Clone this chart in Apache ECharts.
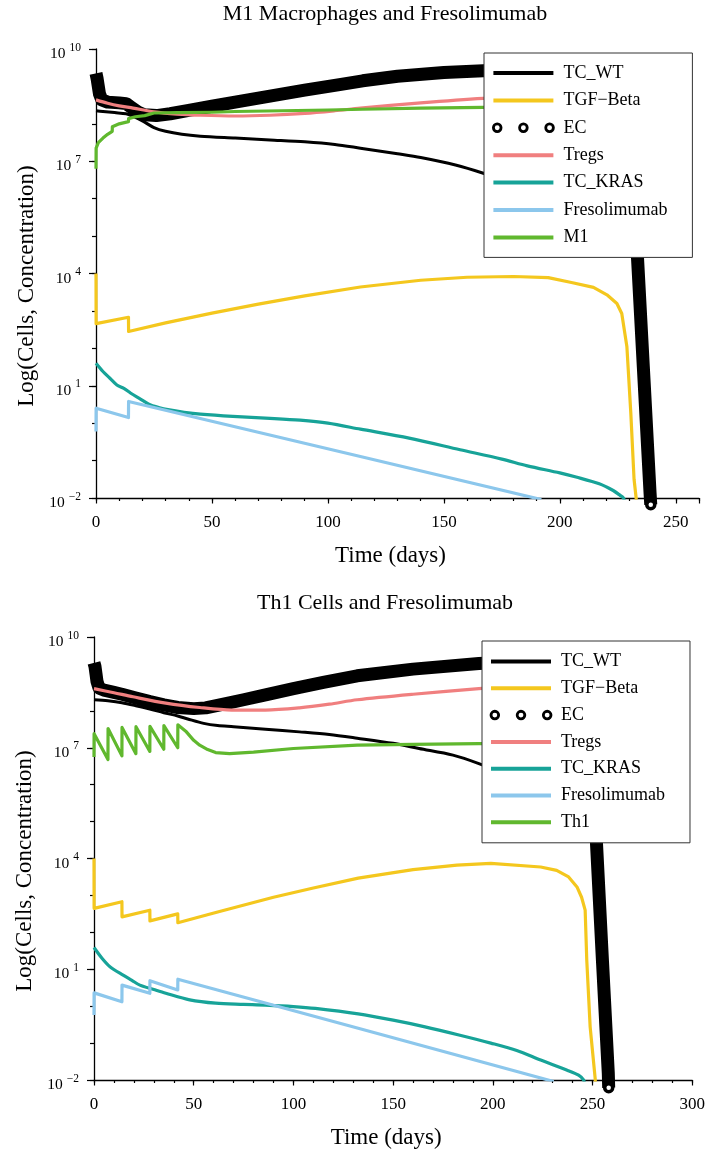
<!DOCTYPE html>
<html><head><meta charset="utf-8">
<script src="https://cdn.jsdelivr.net/npm/echarts@6/dist/echarts.min.js"></script>
<style>html,body{margin:0;padding:0;background:#fff}#c{width:708px;height:1155px}</style>
</head><body><div id="c"></div>
<script>
// Values are [time (days), log10(cells or concentration)].
const titles = ['M1 Macrophages and Fresolimumab', 'Th1 Cells and Fresolimumab'];
const names1 = ['TC_WT', 'TGF\u2212Beta', 'EC', 'Tregs', 'TC_KRAS', 'Fresolimumab', 'M1'];
const names2 = ['TC_WT', 'TGF\u2212Beta', 'EC', 'Tregs', 'TC_KRAS', 'Fresolimumab', 'Th1'];
const xMax = [260, 300];

// ---- Chart 1: M1 Macrophages ----
const m1_TCWT = [[0,8.35],[3,8.33],[8,8.3],[13,8.27],[16,8.2],[20,8.08],[25,7.9],[30,7.8],[37,7.72],[45,7.67],[60,7.62],[75,7.57],[90,7.52],[103,7.45],[114,7.35],[130,7.2],[140,7.1],[155,6.9],[167,6.68],[190,6.2],[215,5.6],[238,4.9]];
const m1_TGF = [[0,4.0],[0.05,2.66],[14,2.83],[14.05,2.45],[30,2.68],[50,2.94],[70,3.18],[90,3.4],[114,3.64],[140,3.82],[160,3.9],[180,3.92],[195,3.89],[205,3.76],[214.5,3.63],[220.3,3.43],[224.6,3.2],[226.7,2.93],[228.9,2.05],[230.6,0.27],[232,-1.5],[232.9,-2.0],[233.5,-2.6]];
const m1_EC = [[0,9.35],[0.5,9.2],[1,9.0],[1.5,8.8],[2.5,8.64],[5,8.58],[10,8.56],[13,8.54],[15,8.45],[18,8.32],[21,8.24],[26,8.22],[32,8.27],[40,8.36],[50,8.47],[60,8.58],[75,8.74],[90,8.9],[105,9.05],[115,9.15],[130,9.27],[150,9.37],[167,9.42],[200,9.5],[220,9.5],[226,9.2],[229,8.0],[231,6.6],[233.5,4.4],[236,1.5],[238.9,-1.87],[239.2,-2.18]];
const m1_Tregs = [[0,8.64],[5,8.55],[10,8.48],[16,8.42],[25,8.32],[35,8.26],[45,8.23],[60,8.21],[75,8.23],[90,8.28],[103,8.35],[114,8.42],[140,8.56],[167,8.68],[200,8.78],[239,8.85]];
const m1_KRAS = [[0,1.6],[3,1.38],[6,1.2],[9,1.02],[12,0.93],[15,0.8],[19,0.65],[23,0.5],[27,0.42],[31,0.36],[38,0.29],[45,0.24],[59,0.18],[75,0.13],[88,0.08],[100,0.0],[114,-0.16],[135,-0.4],[157,-0.71],[175,-0.96],[186,-1.14],[200,-1.33],[207,-1.44],[217,-1.62],[223,-1.8],[226,-1.93],[227.4,-2.0],[228,-2.1]];
const m1_Freso = [[0,-0.22],[0.05,0.40],[14,0.15],[14.05,0.58],[114,-0.89],[192,-2.04]];
const m1_M1 = [[0,6.8],[0.05,7.35],[1,7.5],[3,7.62],[5,7.72],[7,7.8],[7.05,7.92],[10,8.0],[14,8.06],[14.05,8.14],[17,8.19],[21,8.22],[21.05,8.27],[25,8.29],[35,8.3],[50,8.31],[60,8.33],[80,8.35],[100,8.37],[115,8.39],[140,8.42],[167,8.44],[200,8.46],[239,8.47]];

// ---- Chart 2: Th1 cells ----
const th_TCWT = [[0,8.3],[7,8.27],[14,8.22],[21,8.14],[28,8.05],[35,7.95],[42,7.86],[47,7.78],[55,7.66],[62,7.6],[70,7.57],[86,7.5],[103,7.43],[118,7.36],[132,7.26],[150,7.12],[163,6.98],[180,6.8],[193,6.57],[220,6.0],[250,5.3],[257,4.9]];
const th_TGF = [[0,4.0],[0.05,2.65],[14,2.83],[14.05,2.42],[28,2.6],[28.05,2.31],[42,2.5],[42.05,2.26],[62,2.55],[90,2.95],[110,3.2],[132.5,3.47],[160,3.7],[182,3.82],[199,3.87],[224,3.77],[232,3.68],[238,3.5],[242.2,3.23],[244.5,2.95],[246.3,2.6],[247.1,1.25],[248.8,-0.56],[251.3,-1.95],[252,-2.6]];
const th_EC = [[0,9.3],[0.5,9.2],[1,9.0],[1.5,8.8],[2.5,8.62],[5,8.56],[10,8.5],[14,8.45],[21,8.35],[28,8.25],[35,8.16],[42,8.09],[50,8.06],[56,8.08],[62,8.15],[75,8.3],[86,8.43],[100,8.6],[115,8.77],[132,8.95],[160,9.13],[193,9.28],[220,9.35],[244,9.32],[247,8.8],[249.5,7.0],[251.8,4.6],[255,1.2],[257.9,-1.82],[258.1,-2.21]];
const th_Tregs = [[0,8.6],[10,8.49],[19.6,8.38],[36,8.21],[53,8.09],[69,8.02],[86,8.02],[103,8.08],[118,8.18],[132,8.3],[160,8.45],[193,8.6],[225,8.72],[257,8.8]];
const th_KRAS = [[0,1.59],[4,1.3],[8,1.07],[14.6,0.84],[19,0.7],[23,0.57],[30,0.45],[36,0.35],[48,0.17],[61,0.08],[75,0.05],[86,0.03],[100,-0.01],[111,-0.06],[132.5,-0.21],[150,-0.38],[166,-0.56],[183,-0.78],[199,-1.0],[212,-1.2],[224,-1.46],[237,-1.73],[243,-1.87],[245.5,-2.0],[246,-2.1]];
const th_Freso = [[0,-0.24],[0.05,0.36],[14,0.12],[14.05,0.57],[28,0.35],[28.05,0.69],[42,0.44],[42.05,0.73],[132.5,-0.6],[230.5,-2.04]];
const th_Th1 = [[0,6.75],[0.05,7.38],[7,6.68],[7.05,7.52],[14,6.78],[14.05,7.55],[21,6.84],[21.05,7.57],[28,6.9],[28.05,7.58],[35,6.96],[35.05,7.6],[42,7.0],[42.05,7.62],[46,7.45],[50,7.2],[53,7.07],[57,6.95],[61,6.87],[68,6.84],[80,6.88],[100,6.98],[132,7.07],[160,7.09],[193,7.11],[255,7.12]];

const colors = ['#000000', '#F4C71E', '#000000', '#F07F7F', '#17A398', '#8CC7EC', '#60B82E'];
const smoothSeries = [0.3, false, false, 0.3, 0.3, false, false];
const FONT = "'Liberation Serif','Times New Roman',serif";

const chart1 = [m1_TCWT, m1_TGF, m1_EC, m1_Tregs, m1_KRAS, m1_Freso, m1_M1];
const chart2 = [th_TCWT, th_TGF, th_EC, th_Tregs, th_KRAS, th_Freso, th_Th1];

const grids = [
  {left: 96, right: 9, top: 49, height: 449},
  {left: 94, right: 12, top: 637, height: 443}
];

function supLabel(v) {
  const s = v < 0 ? '\u2212' + Math.abs(v) : String(v);
  return '{b|10}{s|' + s + '}';
}

const xAxes = [], yAxes = [], series = [], legends = [], titleOpts = [];
const axisLineStyle = {color: '#000', width: 1.3};
const tickStyle = {color: '#000', width: 1.2};

[0, 1].forEach(function (g) {
  xAxes.push({
    type: 'value', gridIndex: g, position: 'bottom', min: 0, max: xMax[g], interval: 10,
    axisLine: {show: true, onZero: false, lineStyle: axisLineStyle},
    axisTick: {show: true, length: 3, lineStyle: tickStyle},
    axisLabel: {show: false}, splitLine: {show: false},
    name: 'Time (days)', nameLocation: 'middle', nameGap: 46,
    nameTextStyle: {fontSize: 23, fontFamily: FONT, color: '#000', padding: [0, 14, 0, 0]}
  });
  xAxes.push({
    type: 'value', gridIndex: g, position: 'bottom', min: 0, max: xMax[g], interval: 50,
    axisLine: {show: false, onZero: false},
    axisTick: {show: true, length: 5.5, lineStyle: tickStyle},
    axisLabel: {fontSize: 17, fontFamily: FONT, color: '#000', margin: 16,
      formatter: function (v) { return v % 50 === 0 ? String(v) : ''; }},
    splitLine: {show: false}
  });
  yAxes.push({
    type: 'value', gridIndex: g, position: 'left', min: -2, max: 10, interval: 1,
    axisLine: {show: true, onZero: false, lineStyle: axisLineStyle},
    axisTick: {show: true, length: 4, lineStyle: tickStyle},
    axisLabel: {show: false}, splitLine: {show: false},
    name: 'Log(Cells, Concentration)', nameLocation: 'middle', nameGap: 58,
    nameTextStyle: {fontSize: 23, fontFamily: FONT, color: '#000', padding: [0, 25, 0, 0]}
  });
  yAxes.push({
    type: 'value', gridIndex: g, position: 'left', min: -2, max: 10, interval: 3,
    axisLine: {show: false, onZero: false},
    axisTick: {show: true, length: 7, lineStyle: tickStyle},
    axisLabel: {margin: 15, formatter: supLabel, color: '#000',
      rich: {
        b: {fontSize: 15.5, fontFamily: FONT, color: '#000', lineHeight: 15, padding: [10, 0, 0, 0]},
        s: {fontSize: 11.5, fontFamily: FONT, color: '#000', lineHeight: 11, verticalAlign: 'top', padding: [0, 0, 0, 4]}
      }},
    splitLine: {show: false}
  });

  const names = g === 0 ? names1 : names2;
  const datasets = g === 0 ? chart1 : chart2;
  datasets.forEach(function (d, i) {
    const s = {
      name: names[i], type: 'line', data: d,
      xAxisIndex: g * 2, yAxisIndex: g * 2,
      color: colors[i],
      smooth: smoothSeries[i],
      lineStyle: {color: colors[i], width: i === 0 ? 3 : 3.2, join: 'round'},
      symbol: 'none', animation: false, emphasis: {disabled: true}
    };
    if (names[i] === 'EC') {
      s.clip = false;
      s.lineStyle = {color: '#000', width: 13, join: 'round'};
      const last = d.length - 1;
      s.symbol = function (v, p) { return p.dataIndex === last ? 'circle' : 'none'; };
      s.symbolSize = 8;
      s.itemStyle = {color: '#fff', borderColor: '#000', borderWidth: 3.5};
    }
    series.push(s);
  });

  const lineIcon = 'path://M0,0 L60,0 L60,4 L0,4 Z';
  const ecIcon = 'path://M0.2,4a3.8,3.8 0 1,0 7.6,0a3.8,3.8 0 1,0 -7.6,0Z M26.2,4a3.8,3.8 0 1,0 7.6,0a3.8,3.8 0 1,0 -7.6,0Z M52.2,4a3.8,3.8 0 1,0 7.6,0a3.8,3.8 0 1,0 -7.6,0Z';
  legends.push({
    orient: 'vertical',
    left: g === 0 ? 484 : 482, top: g === 0 ? 53 : 641,
    padding: g === 0 ? [10, 25, 10, 8] : [10.5, 25, 10.5, 7.6],
    itemWidth: 60, itemHeight: 8, itemGap: g === 0 ? 7.4 : 6.8,
    backgroundColor: '#fff', borderColor: '#333', borderWidth: 1,
    selectedMode: false,
    textStyle: {fontSize: 18, fontFamily: FONT, color: '#000', lineHeight: 20, padding: [0, 0, 0, 5]},
    itemStyle: {borderWidth: 0},
    data: names.map(function (n, i) {
      if (n === 'EC') return {name: n, icon: ecIcon, itemStyle: {color: '#fff', borderColor: '#000', borderWidth: 2.8}};
      return {name: n, icon: lineIcon, itemStyle: {color: colors[i], borderWidth: 0}};
    })
  });

  titleOpts.push({
    text: titles[g], left: 385, top: g === 0 ? 3 : 592, textAlign: 'center', padding: 0,
    textStyle: {fontSize: 22, fontWeight: 'normal', fontFamily: FONT, color: '#000'}
  });
});

const chart = echarts.init(document.getElementById('c'), null, {renderer: 'canvas'});
chart.setOption({
  animation: false,
  backgroundColor: '#fff',
  title: titleOpts,
  grid: grids,
  xAxis: xAxes,
  yAxis: yAxes,
  legend: legends,
  series: series
});
</script></body></html>
